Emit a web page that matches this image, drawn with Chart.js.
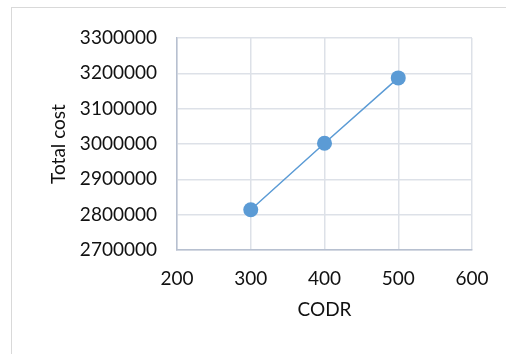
<!DOCTYPE html>
<html>
<head>
<meta charset="utf-8">
<script src="https://cdn.jsdelivr.net/npm/chart.js@4"></script>
<style>
  html, body { margin: 0; padding: 0; background: #fff; overflow: hidden; }
  #wrap { position: relative; width: 506px; height: 354px; }
  #frame { position: absolute; left: 11px; top: 7px; width: 600px; height: 400px; border: 1px solid #d9d9d9; }
  canvas { position: absolute; left: 0; top: 0; }
</style>
</head>
<body>
<div id="wrap">
  <div id="frame"></div>
  <canvas id="chart" width="506" height="354"></canvas>
</div>
<script>
// values
const codr = [300, 400, 500];
const totalCost = [2814000, 3002000, 3187000];
const xTicks = [200, 300, 400, 500, 600];
const yTicks = [2700000, 2800000, 2900000, 3000000, 3100000, 3200000, 3300000];

const points = codr.map((x, i) => ({ x: x, y: totalCost[i] }));
const font = { family: 'Lato, "Open Sans", sans-serif', size: 19 };

new Chart(document.getElementById('chart'), {
    type: 'scatter',
    data: {
        datasets: [{
            data: points,
            showLine: true,
            borderColor: '#5b9bd5',
            backgroundColor: '#5b9bd5',
            borderWidth: 1.5,
            pointRadius: 7.5,
            pointHoverRadius: 7.5,
            pointBorderWidth: 0
        }]
    },
    options: {
        responsive: false,
        animation: false,
        layout: { padding: { top: 38, right: 34, left: 0, bottom: 0 } },
        plugins: { legend: { display: false }, tooltip: { enabled: false } },
        scales: {
            x: {
                type: 'linear',
                min: xTicks[0],
                max: xTicks[xTicks.length - 1],
                afterBuildTicks: s => { s.ticks = xTicks.map(v => ({ value: v })); },
                afterFit: s => { s.height = 104; },
                grid: { color: '#dde1e8', lineWidth: 1.5, drawTicks: false },
                border: { color: '#b7c0d0', width: 1.5 },
                ticks: { color: '#111', font: font, padding: 17 },
                title: { display: true, text: 'CODR', color: '#111', font: font, padding: { top: 0, bottom: 33 } }
            },
            y: {
                type: 'linear',
                min: yTicks[0],
                max: yTicks[yTicks.length - 1],
                afterBuildTicks: s => { s.ticks = yTicks.map(v => ({ value: v })); },
                afterFit: s => { s.width = 177; },
                grid: { color: '#dde1e8', lineWidth: 1.5, drawTicks: false },
                border: { color: '#b7c0d0', width: 1.5 },
                ticks: { color: '#111', font: font, padding: 20, callback: v => String(v) },
                title: { display: true, text: 'Total cost', color: '#111', font: font, padding: { top: 47, bottom: 0 } }
            }
        }
    }
});
</script>
</body>
</html>
